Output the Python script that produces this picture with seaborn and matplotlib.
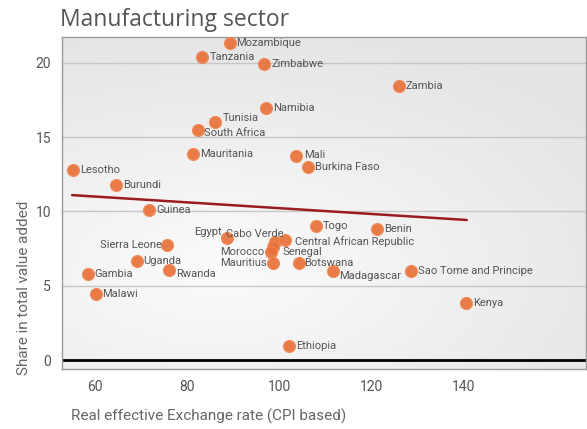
import numpy as np
import pandas as pd
import seaborn as sns
import matplotlib.pyplot as plt

# Data
countries = ['Mozambique', 'Tanzania', 'Zimbabwe', 'Zambia', 'Namibia', 'Tunisia',
             'South Africa', 'Mauritania', 'Mali', 'Burkina Faso', 'Lesotho', 'Burundi',
             'Guinea', 'Egypt', 'Cabo Verde', 'Central African Republic', 'Senegal',
             'Morocco', 'Togo', 'Benin', 'Sierra Leone', 'Uganda', 'Gambia', 'Rwanda',
             'Mauritius', 'Botswana', 'Madagascar', 'Sao Tome and Principe', 'Malawi',
             'Kenya', 'Ethiopia']
reer = [89.2, 83.3, 96.7, 125.9, 97.2, 86.1,
        82.3, 81.3, 103.7, 106.3, 55.2, 64.6,
        71.8, 88.7, 99.1, 101.3, 98.6,
        98.1, 107.9, 121.3, 75.7, 69.0, 58.4, 76.0,
        98.6, 104.2, 111.7, 128.6, 60.1,
        140.5, 102.1]
share = [21.3, 20.35, 19.9, 18.4, 16.95, 16.0,
         15.5, 13.85, 13.7, 13.0, 12.8, 11.8,
         10.1, 8.2, 7.95, 8.1, 7.6,
         7.3, 9.05, 8.8, 7.75, 6.7, 5.8, 6.05,
         6.55, 6.55, 6.0, 6.0, 4.45,
         3.85, 0.95]

# Trend line end points
trend_x = [55.0, 140.7]
trend_y = [11.1, 9.43]

x_ticks = [60, 80, 100, 120, 140]
y_ticks = [0, 5, 10, 15, 20]

df = pd.DataFrame({'country': countries, 'reer': reer, 'share': share})

# label placement: offset in pixels and alignment
offsets = {
    'Tunisia': (7, 4, 'left'),
    'South Africa': (6, -3, 'left'),
    'Mali': (8, 1, 'left'),
    'Egypt': (-6, 6, 'right'),
    'Cabo Verde': (8, 8, 'right'),
    'Central African Republic': (10, -2, 'left'),
    'Senegal': (10, -5, 'left'),
    'Morocco': (-6, 0, 'right'),
    'Sierra Leone': (-6, 0, 'right'),
    'Mauritius': (-6, 0, 'right'),
    'Madagascar': (6, -5, 'left'),
    'Rwanda': (7, -4, 'left'),
    'Botswana': (5, 0, 'left'),
}

sns.set_style('white')
plt.rcParams['font.family'] = ['Liberation Sans Narrow', 'Roboto', 'DejaVu Sans']

fig = plt.figure(figsize=(5.87, 4.29), dpi=100)
ax = fig.add_axes([62 / 587, 1 - 369.3 / 429, 524 / 587, 332 / 429])

# light radial gradient background
gx, gy = np.meshgrid(np.linspace(0, 1, 200), np.linspace(0, 1, 200))
dist = np.sqrt((gx - 0.3) ** 2 + ((gy - 0.3) * 1.2) ** 2)
grey = np.clip(0.985 - 0.1 * dist, 0.895, 0.985)
bg = np.dstack([grey, grey, grey])
ax.imshow(bg, extent=[0, 1, 0, 1], origin='lower',
          transform=ax.transAxes, aspect='auto', zorder=0)

for yv in y_ticks[1:]:
    ax.axhline(yv, color='#c6c6c6', lw=1, zorder=1)
ax.axhline(0, color='black', lw=2, zorder=2)

ax.plot(trend_x, trend_y, color='#9b1c1f', lw=1.8, zorder=3)

sns.scatterplot(data=df, x='reer', y='share', ax=ax, s=75, color='#e8713a',
                edgecolor='#f08a55', linewidth=0.8, alpha=0.92, zorder=4, legend=False)

for c, xv, yv in zip(countries, reer, share):
    dx, dy, ha = offsets.get(c, (7, 0, 'left'))
    ax.annotate(c, (xv, yv), xytext=(dx, dy), textcoords='offset pixels',
                ha=ha, va='center', fontsize=8, color='#555555', zorder=5)

ax.set_xlim(52.8, 166.6)
ax.set_ylim(-0.6, 21.7)
ax.set_xticks(x_ticks)
ax.set_yticks(y_ticks)
ax.tick_params(axis='both', length=0, labelsize=10, labelcolor='#555555', pad=8)
for sp in ax.spines.values():
    sp.set_color('#9a9a9a')
    sp.set_linewidth(1)
ax.set_xlabel('')
ax.set_ylabel('')

fig.text(60 / 587, 1 - 20 / 429, 'Manufacturing sector', fontsize=16.5, color='#555555',
         ha='left', va='center', family=['Open Sans', 'DejaVu Sans'])
fig.text(209 / 587, 1 - 416.7 / 429, 'Real effective Exchange rate (CPI based)',
         fontsize=11, color='#666666', ha='center', va='center')
fig.text(24 / 587, 1 - 288 / 429, 'Share in total value added', fontsize=11,
         color='#666666', ha='center', va='center', rotation=90)

fig.savefig('out.png', dpi=100)
